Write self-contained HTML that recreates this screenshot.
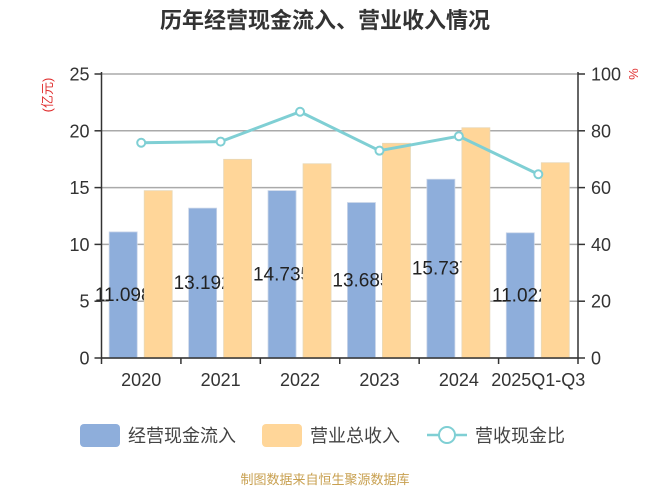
<!DOCTYPE html>
<html><head><meta charset="utf-8"><style>
html,body{margin:0;padding:0;background:#fff;}
svg text{font-family:"Liberation Sans","Noto Sans CJK SC",sans-serif;}
</style></head><body>
<svg width="650" height="488" viewBox="0 0 650 488" xmlns="http://www.w3.org/2000/svg">
<text x="325" y="28" text-anchor="middle" font-size="22" font-weight="bold" fill="#333">历年经营现金流入、营业收入情况</text>
<text transform="translate(52,95) rotate(-90)" text-anchor="middle" font-size="13" fill="#e03030">(亿元)</text>
<text transform="translate(629,74) rotate(90)" text-anchor="middle" font-size="13" fill="#e03030">%</text>
<g id="grid"></g>
<g id="bars"></g>
<g id="line"></g>
<g id="axes"></g>
<g>
<rect x="80" y="424" width="40" height="23" rx="4" fill="#8eaedb"/>
<text x="128" y="442" font-size="18" fill="#444">经营现金流入</text>
<rect x="262" y="424" width="40" height="23" rx="4" fill="#ffd699"/>
<text x="310" y="442" font-size="18" fill="#444">营业总收入</text>
<line x1="427" y1="435" x2="467" y2="435" stroke="#7fcfd4" stroke-width="2.5"/>
<circle cx="447" cy="435" r="8" fill="#fff" stroke="#7fcfd4" stroke-width="2"/>
<text x="475" y="442" font-size="18" fill="#444">营收现金比</text>
</g>
<text x="325" y="484" text-anchor="middle" font-size="13" fill="#c8a050">制图数据来自恒生聚源数据库</text>
</svg>
<script>
const categories=["2020","2021","2022","2023","2024","2025Q1-Q3"];
const cashInflow=[11.098,13.192,14.735,13.685,15.737,11.022];
const cashLabels=["11.098","13.192","14.735","13.685","15.737","11.022"];
const revenue=[14.73,17.49,17.1,18.9,20.27,17.19];
const ratio=[75.8,76.2,86.7,73.0,78.1,64.7];
const leftTicks=[0,5,10,15,20,25];
const rightTicks=[0,20,40,60,80,100];
const NS="http://www.w3.org/2000/svg";
const X0=101.5,X1=578,Y0=358,Y1=74;
const bw=(X1-X0)/categories.length;
const yL=v=>Y0-(v/25)*(Y0-Y1);
const yR=v=>Y0-(v/100)*(Y0-Y1);
const xC=i=>X0+bw*(i+0.5);
function mk(tag,attrs,parent,txt){const e=document.createElementNS(NS,tag);for(const k in attrs)e.setAttribute(k,attrs[k]);if(txt!==undefined)e.textContent=txt;document.getElementById(parent).appendChild(e);return e;}
leftTicks.forEach((t,i)=>{
  const g=mk('line',{x1:X0,x2:X1,y1:yL(t),y2:yL(t),stroke:'#aaa','stroke-width':1.5},'grid');
  
  
  const tk=mk('line',{x1:X0-7,x2:X0,y1:yL(t),y2:yL(t),stroke:'#333','stroke-width':1.5},'axes');
  
  
  const lb=mk('text',{x:X0-12,y:yL(t)+6.5,'text-anchor':'end','font-size':18,fill:'#333'},'axes',String(t));
  
  
});
rightTicks.forEach(t=>{
  const tk=mk('line',{x1:X1,x2:X1+7,y1:yR(t),y2:yR(t),stroke:'#333','stroke-width':1.5},'axes');
  
  
  const lb=mk('text',{x:X1+13,y:yR(t)+6.5,'font-size':18,fill:'#333'},'axes',String(t));
  
  
});
categories.forEach((c,i)=>{
  const cx=xC(i);
  const b=mk('rect',{x:cx-32,y:yL(cashInflow[i]),width:28,height:Y0-yL(cashInflow[i]),fill:'#8eaedb',stroke:'#c8d4e8','stroke-width':0.8},'bars');
  
  
  const l=mk('text',{x:cx-18,y:(Y0+yL(cashInflow[i]))/2+6,'text-anchor':'middle','font-size':19,fill:'#222'},'bars',cashLabels[i]);
  
  
  const o=mk('rect',{x:cx+3,y:yL(revenue[i]),width:28,height:Y0-yL(revenue[i]),fill:'#ffd699',stroke:'#e8d8b8','stroke-width':0.8},'bars');
  
  
  const tk=mk('line',{x1:X0+bw*i,x2:X0+bw*i,y1:Y0,y2:Y0+6,stroke:'#333','stroke-width':1.5},'axes');
  
  
  const xl=mk('text',{x:cx,y:Y0+28,'text-anchor':'middle','font-size':18,fill:'#333'},'axes',c);
  
  
});
const lt=mk('line',{x1:X1,x2:X1,y1:Y0,y2:Y0+6,stroke:'#333','stroke-width':1.5},'axes');


const ax=mk('path',{d:`M${X0},${Y1-2}V${Y0}H${X1}V${Y1-2}`,fill:'none',stroke:'#333','stroke-width':1.5},'axes');


const pl=mk('polyline',{points:ratio.map((v,i)=>xC(i)+','+yR(v)).join(' '),fill:'none',stroke:'#7fcfd4','stroke-width':3},'line');


ratio.forEach((v,i)=>{
  const p=mk('circle',{cx:xC(i),cy:yR(v),r:4,fill:'#fff',stroke:'#7fcfd4','stroke-width':2},'line');
  
  
});
</script>
</body></html>
